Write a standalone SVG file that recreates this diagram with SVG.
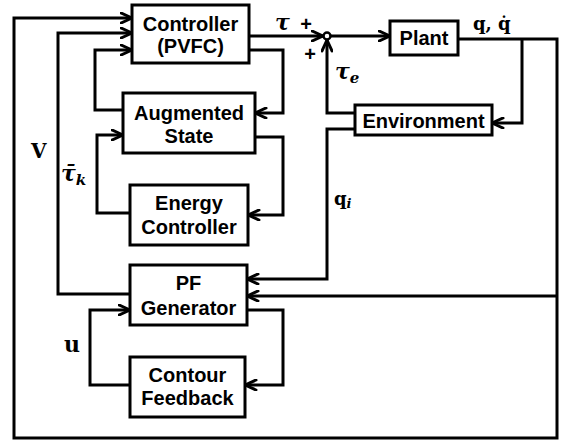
<svg xmlns="http://www.w3.org/2000/svg" width="562" height="442" viewBox="0 0 562 442">
<style>
.box{fill:#fff;stroke:#000;stroke-width:3}
.lbl{font-family:"Liberation Sans",Arial,sans-serif;font-weight:bold;font-size:20px;fill:#000;text-anchor:middle}
.wire{fill:none;stroke:#000;stroke-width:3;stroke-linejoin:miter}
.arr{marker-end:url(#chev)}
.math{font-family:"DejaVu Serif","Liberation Serif",serif;font-weight:bold;fill:#000}
.it{font-style:italic}
.pl{font-family:"Liberation Sans",Arial,sans-serif;font-weight:bold;font-size:20px;fill:#000;text-anchor:middle}
</style>
<defs>
<marker id="chev" viewBox="0 0 14 12" refX="12.5" refY="6" markerWidth="14" markerHeight="12" markerUnits="userSpaceOnUse" orient="auto">
<path d="M1.5,1 L12.5,6 L1.5,11" fill="none" stroke="#000" stroke-width="3" stroke-linejoin="round" stroke-linecap="round"/>
</marker>
</defs>
<rect width="562" height="442" fill="#fff"/>
<g id="connectors">
<path class="wire arr" d="M458,39 H557 V438 H14 V18 H132"/>
<path class="wire arr" d="M557,296 H247"/>
<path class="wire arr" d="M522,39 V123 H492"/>
<path class="wire arr" d="M249,36 H323"/>
<path class="wire arr" d="M330.5,36 H390"/>
<path class="wire arr" d="M355,113 H327 V40"/>
<path class="wire arr" d="M249,50 H283 V113 H255"/>
<path class="wire arr" d="M255,137 H283 V215 H248"/>
<path class="wire arr" d="M130,213 H97 V135 H123"/>
<path class="wire arr" d="M123,110 H95 V50 H132"/>
<path class="wire arr" d="M130,294 H58 V33 H132"/>
<path class="wire arr" d="M355,129 H327 V279 H247"/>
<path class="wire arr" d="M247,310 H283 V385 H245"/>
<path class="wire arr" d="M130,385 H90 V310 H130"/>
<circle id="sum" cx="327" cy="36" r="3.5" fill="#fff" stroke="#000" stroke-width="2.5"/>
<text class="math it" x="275" y="30" font-size="22">τ</text>
<text class="pl" x="306" y="31">+</text>
<text class="pl" x="310" y="61">+</text>
<text class="math it" x="335" y="79" font-size="22">τ<tspan dy="4" font-size="15">e</tspan></text>
<text class="math" x="473" y="30" font-size="18">q, q̇</text>
<text class="math" x="31" y="158" font-size="20">V</text>
<text class="math it" x="61" y="181" font-size="22">τ̄<tspan dy="4" font-size="15">k</tspan></text>
<text class="math" x="334" y="205" font-size="18">q<tspan class="it" dy="3" font-size="13">i</tspan></text>
<text class="math" x="64" y="352" font-size="22">u</text>
</g>
<g id="controller">
<rect class="box" x="132" y="5" width="117" height="58"/>
<text class="lbl" x="190.5" y="31">Controller</text>
<text class="lbl" x="190.5" y="53">(PVFC)</text>
</g>
<g id="plant">
<rect class="box" x="390" y="21" width="68" height="34"/>
<text class="lbl" x="424" y="45">Plant</text>
</g>
<g id="environment">
<rect class="box" x="355" y="105" width="137" height="30"/>
<text class="lbl" x="423.5" y="128">Environment</text>
</g>
<g id="augmented-state">
<rect class="box" x="123" y="93" width="132" height="60"/>
<text class="lbl" x="189" y="120">Augmented</text>
<text class="lbl" x="189" y="143">State</text>
</g>
<g id="energy-controller">
<rect class="box" x="130" y="185" width="118" height="60"/>
<text class="lbl" x="189" y="210">Energy</text>
<text class="lbl" x="189" y="234">Controller</text>
</g>
<g id="pf-generator">
<rect class="box" x="130" y="265" width="117" height="60"/>
<text class="lbl" x="188.5" y="290">PF</text>
<text class="lbl" x="188.5" y="315">Generator</text>
</g>
<g id="contour-feedback">
<rect class="box" x="130" y="357" width="115" height="60"/>
<text class="lbl" x="187.5" y="382">Contour</text>
<text class="lbl" x="187.5" y="405">Feedback</text>
</g>
</svg>
